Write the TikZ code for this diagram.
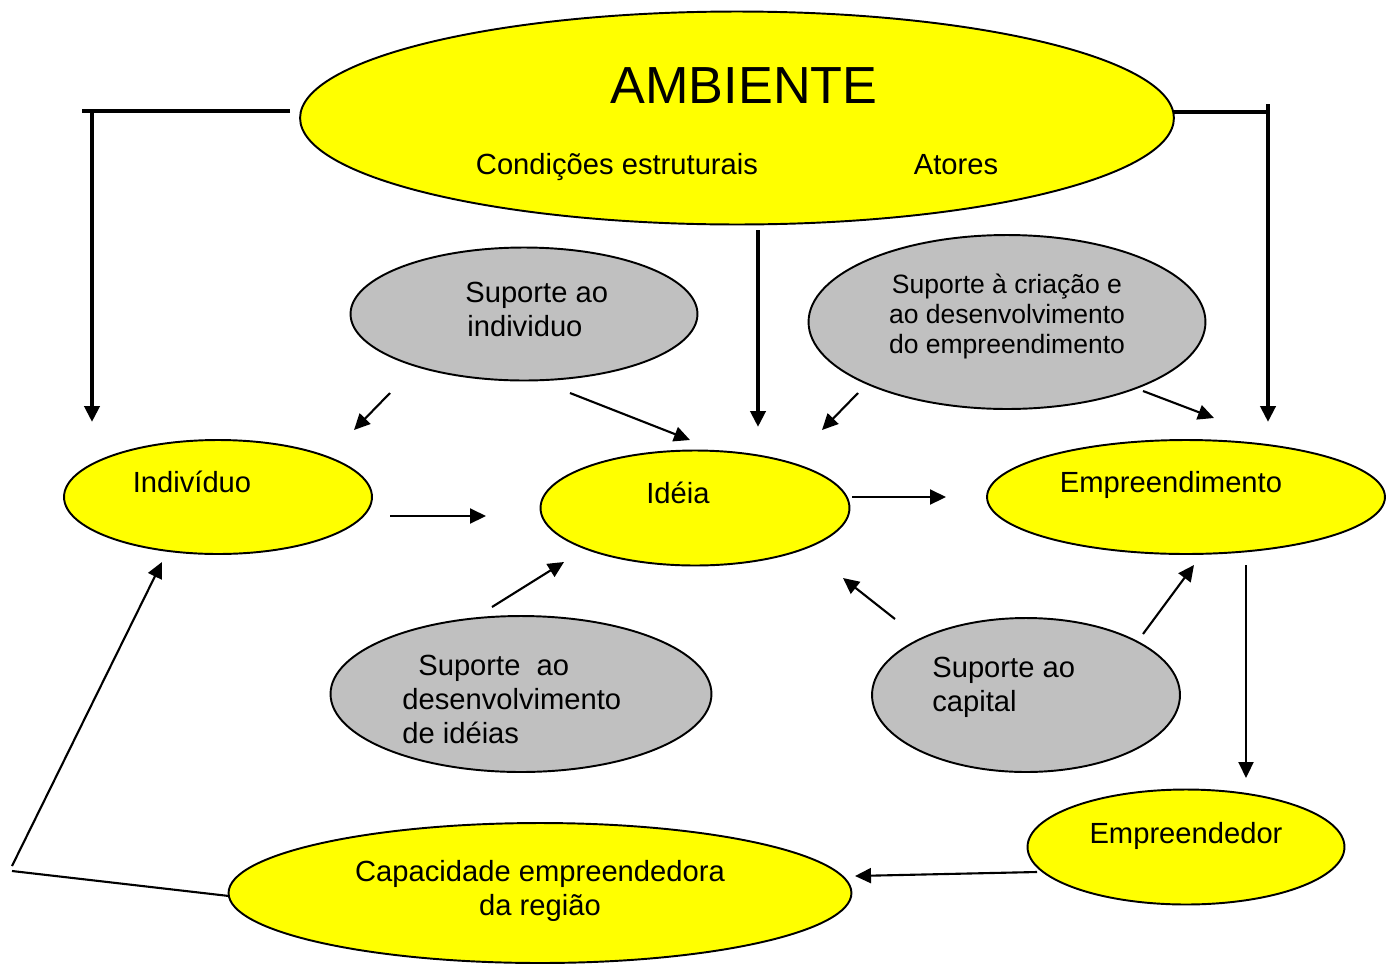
\documentclass[tikz,border=0pt]{standalone}
\usepackage{fontspec}
\setmainfont{Liberation Sans}
\usetikzlibrary{shapes.geometric,arrows.meta}
\definecolor{yel}{HTML}{FFFF00}
\definecolor{gry}{HTML}{C0C0C0}
\begin{document}
\begin{tikzpicture}[x=0.02cm,y=-0.02cm,
  ell/.style={ellipse, draw, line width=1.1pt, inner sep=0pt},
  yell/.style={ell, fill=yel},
  gell/.style={ell, fill=gry},
  txt/.style={font=\fontsize{16.6}{19.3}\selectfont, inner sep=0pt, anchor=base},
  txtl/.style={font=\fontsize{16.6}{19.3}\selectfont, inner sep=0pt, anchor=base west, align=left},
  txtc/.style={font=\fontsize{16.6}{19.3}\selectfont, inner sep=0pt, anchor=base, align=center},
  arr/.style={line width=1.2pt, -{Triangle[length=0.32cm,width=0.3cm]}},
  thk/.style={line width=2.3pt},
  tarr/.style={thk, -{Triangle[length=0.32cm,width=0.3cm]}}]
\useasboundingbox (0,0) rectangle (1386,964);

% ellipses
\node[yell, minimum width=17.48cm, minimum height=4.26cm] (amb) at (737,118) {};
\node[gell, minimum width=6.94cm, minimum height=2.66cm] (supind) at (524,314) {};
\node[gell, minimum width=7.94cm, minimum height=3.48cm] (supcri) at (1007,322) {};
\node[yell, minimum width=6.16cm, minimum height=2.28cm] (ind) at (218,497) {};
\node[yell, minimum width=6.18cm, minimum height=2.30cm] (idea) at (695,508) {};
\node[yell, minimum width=7.96cm, minimum height=2.28cm] (emp) at (1186,497) {};
\node[gell, minimum width=7.62cm, minimum height=3.12cm] (supdev) at (521,694) {};
\node[gell, minimum width=6.16cm, minimum height=3.08cm] (supcap) at (1026,695) {};
\node[yell, minimum width=6.34cm, minimum height=2.30cm] (empr) at (1186,847) {};
\node[yell, minimum width=12.46cm, minimum height=2.80cm] (cap) at (540,893) {};

% texts (multi-line nodes: base = baseline of last line)
\node[txt, font=\fontsize{29.7}{34}\selectfont] (t-amb) at (744,103) {AMBIENTE};
\node[txt] (t-cond) at (617,174) {Condições estruturais};
\node[txt] (t-ator) at (956,174) {Atores};
\node[txtl, font=\fontsize{16.6}{19.1}\selectfont] (t-supind) at (465,336) {Suporte ao\\\hspace{0.04cm}individuo};
\node[txtc, font=\fontsize{15.1}{17}\selectfont] (t-supcri) at (1007,353.5) {Suporte à criação e\\ao desenvolvimento\\do empreendimento};
\node[txt] (t-ind) at (192,492) {Indivíduo};
\node[txt] (t-idea) at (678,503) {Idéia};
\node[txt] (t-emp) at (1171,492) {Empreendimento};
\node[txtl] (t-supdev) at (402,743) {\hspace{0.32cm}Suporte\ \ ao\\desenvolvimento\\de idéias};
\node[txtl, font=\fontsize{16.6}{18.8}\selectfont] (t-supcap) at (932,711) {Suporte ao\\capital};
\node[txt] (t-empr) at (1186,843) {Empreendedor};
\node[txtc] (t-cap) at (540,915) {Capacidade empreendedora\\da região};

% free connector ends
\coordinate (lh1) at (290,111);
\coordinate (lh2) at (82,111);
\coordinate (lv1) at (92,111);
\coordinate (lv2) at (92,422);
\coordinate (rh1) at (1173,112);
\coordinate (rh2) at (1268,112);
\coordinate (rv1) at (1268,104);
\coordinate (rv2) at (1268,422);
\coordinate (mv1) at (758,230);
\coordinate (mv2) at (758,427);
\coordinate (a1s) at (390,393); \coordinate (a1e) at (354,430);
\coordinate (a2s) at (570,393); \coordinate (a2e) at (690,440);
\coordinate (a3s) at (858,393); \coordinate (a3e) at (822,430);
\coordinate (a4s) at (1143,391); \coordinate (a4e) at (1214,418);
\coordinate (a5s) at (390,516); \coordinate (a5e) at (486,516);
\coordinate (a6s) at (852,497); \coordinate (a6e) at (946,497);
\coordinate (a7s) at (492,607); \coordinate (a7e) at (564,562);
\coordinate (a8s) at (895,619); \coordinate (a8e) at (843,578);
\coordinate (a9s) at (1143,634); \coordinate (a9e) at (1194,565);
\coordinate (a10s) at (1246,565); \coordinate (a10e) at (1246,778);
\coordinate (a11s) at (1037,872); \coordinate (a11e) at (855,876);
\coordinate (c1) at (229,896);
\coordinate (c2) at (12,871);
\coordinate (c3) at (12,866);
\coordinate (c4) at (162,562);

% connectors
\draw[thk] (lh1) -- (lh2);
\draw[tarr] (lv1) -- (lv2);
\draw[line width=1.8pt] (rh1) -- (rh2);
\draw[tarr] (rv1) -- (rv2);
\draw[tarr] (mv1) -- (mv2);
\draw[arr] (a1s) -- (a1e);
\draw[arr] (a2s) -- (a2e);
\draw[arr] (a3s) -- (a3e);
\draw[arr] (a4s) -- (a4e);
\draw[arr] (a5s) -- (a5e);
\draw[arr] (a6s) -- (a6e);
\draw[arr] (a7s) -- (a7e);
\draw[arr] (a8s) -- (a8e);
\draw[arr] (a9s) -- (a9e);
\draw[arr] (a10s) -- (a10e);
\draw[arr] (a11s) -- (a11e);
\draw[line width=1.2pt] (c1) -- (c2);
\draw[arr] (c3) -- (c4);
\end{tikzpicture}
\end{document}
